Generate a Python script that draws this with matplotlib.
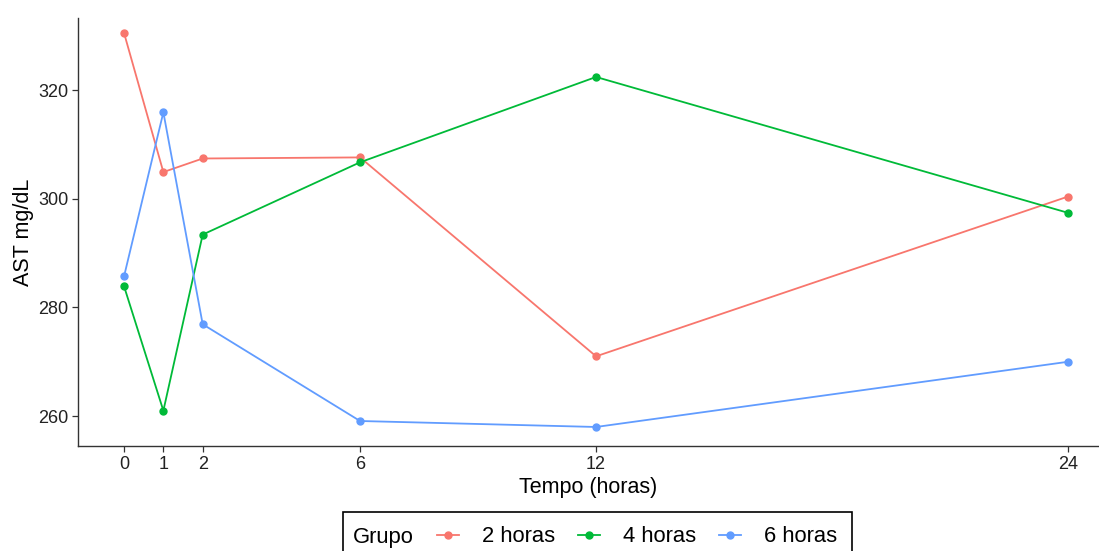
#!/usr/bin/env python3
"""AST mg/dL over time for the three groups (ggplot classic look)."""
import matplotlib
matplotlib.use('Agg')
import matplotlib.pyplot as plt
from matplotlib.lines import Line2D
from matplotlib.patches import Rectangle

tempo = [0, 1, 2, 6, 12, 24]
grupos = ['2 horas', '4 horas', '6 horas']
ast_2h = [330.5, 304.9, 307.4, 307.6, 271.0, 300.4]
ast_4h = [283.9, 261.0, 293.4, 306.7, 322.4, 297.4]
ast_6h = [285.7, 315.9, 276.9, 259.1, 258.0, 270.0]
cores = ['#F8766D', '#00BA38', '#619CFF']

plt.rcParams['font.family'] = ['Liberation Sans', 'DejaVu Sans']

W, H = 1099, 551
fig = plt.figure(figsize=(W / 100, H / 100), dpi=100)
ax = fig.add_axes([78 / W, 1 - 446 / H, (1098 - 78) / W, (446 - 18) / H])

for vals, cor in zip([ast_2h, ast_4h, ast_6h], cores):
    ax.plot(tempo, vals, color=cor, lw=1.3, marker='o', ms=5, clip_on=False)

ax.set_xlim(-1.17, 24.76)
ax.set_ylim(254.5, 333.25)
ax.set_xticks(tempo)
ax.set_yticks([260, 280, 300, 320])
for side in ['top', 'right']:
    ax.spines[side].set_visible(False)
for side in ['left', 'bottom']:
    ax.spines[side].set_color('#333333')
    ax.spines[side].set_linewidth(1.0)
ax.tick_params(length=4, width=0.9, color='#333333', labelsize=13, labelcolor='#222222', pad=3)
ax.set_xlabel('Tempo (horas)', fontsize=15.5, labelpad=3)
ax.set_ylabel('AST mg/dL', fontsize=15.5, labelpad=3)

# legend at the bottom, title inline like ggplot
ly = 1 - 537 / H
fig.add_artist(Rectangle((343 / W, 1 - 562 / H), (852 - 343) / W, 50 / H,
                         transform=fig.transFigure, fill=False, ec='black', lw=1.2))
fig.text(353 / W, ly, 'Grupo', fontsize=15.8, va='center', ha='left')
handles = [Line2D([], [], color=c, lw=1.3, marker='o', ms=5) for c in cores]
fig.legend(handles, grupos, ncol=3, loc='center left', bbox_to_anchor=(437 / W, ly),
           frameon=False, fontsize=15.8, handlelength=1.0, handletextpad=1.05,
           columnspacing=1.05, borderpad=0, borderaxespad=0)

fig.savefig('out.png', dpi=100)
